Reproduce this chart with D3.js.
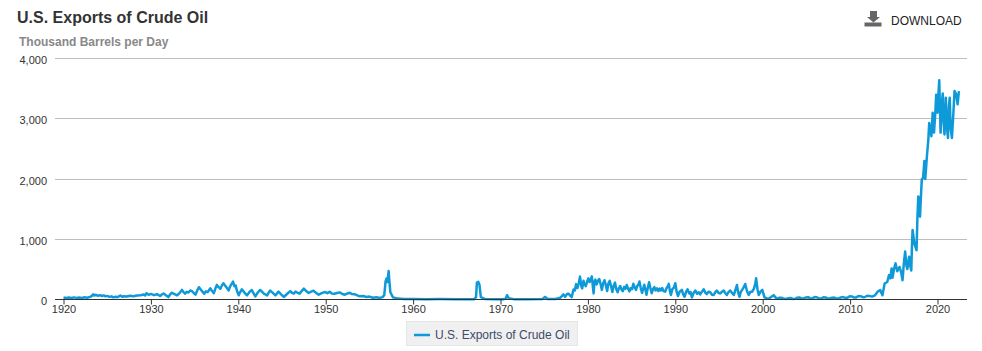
<!DOCTYPE html>
<html><head><meta charset="utf-8">
<script src="https://cdn.jsdelivr.net/npm/d3@7/dist/d3.min.js"></script>
<style>
html,body{margin:0;padding:0;background:#fff}
svg{display:block;font-family:"Liberation Sans",Arial,sans-serif}
</style></head><body><div id="chart"></div>
<script>
const chartTitle = "U.S. Exports of Crude Oil";
const chartUnit = "Thousand Barrels per Day";
const seriesName = "U.S. Exports of Crude Oil";
const yTicks = [0, 1000, 2000, 3000, 4000];
const xTicks = [1920,1930,1940,1950,1960,1970,1980,1990,2000,2010,2020];

// [year, thousand barrels per day]
const exports1920s = [[1920,33],[1920.3,26],[1920.6,32],[1920.9,24],[1921.2,35],[1921.5,27],[1921.8,32],[1922.1,26],[1922.4,36],[1922.7,30],[1923.05,44],[1923.25,60],[1923.4,88],[1923.55,65],[1923.7,78],[1923.95,62],[1924.2,72],[1924.4,58],[1924.6,68],[1924.8,52],[1925,60],[1925.25,44],[1925.5,52],[1925.7,36],[1925.9,44],[1926.2,40],[1926.5,66],[1926.7,46],[1926.9,54],[1927.25,50],[1927.6,62],[1928,54],[1928.4,66],[1928.8,70],[1929.2,84],[1929.35,68],[1929.5,104],[1929.75,78]];
const exports1930s = [[1930,92],[1930.35,72],[1930.7,88],[1931.05,58],[1931.25,82],[1931.45,100],[1931.75,68],[1932,40],[1932.2,84],[1932.4,112],[1932.7,88],[1933,68],[1933.3,110],[1933.55,160],[1933.75,120],[1933.9,96],[1934.1,128],[1934.3,116],[1934.5,150],[1934.7,140],[1934.9,108],[1935.1,80],[1935.3,150],[1935.5,204],[1935.7,165],[1935.9,130],[1936.1,96],[1936.3,135],[1936.5,122],[1936.8,186],[1937,140],[1937.2,105],[1937.4,190],[1937.55,242],[1937.75,205],[1937.95,178],[1938.15,240],[1938.3,268],[1938.5,230],[1938.7,190],[1938.9,150],[1939.05,215],[1939.2,250],[1939.4,296],[1939.55,220],[1939.7,230],[1939.85,140]];
const exports1940s = [[1940.05,70],[1940.2,120],[1940.4,170],[1940.7,115],[1941,68],[1941.3,130],[1941.55,158],[1941.75,100],[1941.95,52],[1942.25,120],[1942.5,158],[1942.9,100],[1943.3,68],[1943.5,120],[1943.65,148],[1943.95,110],[1944.25,68],[1944.45,105],[1944.6,130],[1944.9,85],[1945.2,42],[1945.6,95],[1945.95,140],[1946.15,110],[1946.35,98],[1946.55,132],[1946.7,120],[1947,98],[1947.25,140],[1947.5,180],[1947.8,135],[1948.05,108],[1948.35,130],[1948.6,146],[1948.9,110],[1949.2,80],[1949.6,110],[1949.95,124]];
const exports1950s = [[1950.2,105],[1950.45,128],[1950.7,100],[1951,96],[1951.3,108],[1951.6,118],[1951.9,92],[1952.2,80],[1952.5,100],[1952.75,112],[1953,90],[1953.3,88],[1953.6,70],[1953.9,52],[1954.3,58],[1954.65,42],[1955,48],[1955.4,30],[1955.8,36],[1956.2,26],[1956.5,40],[1956.7,72],[1956.85,300],[1956.95,348],[1957.05,290],[1957.2,472],[1957.3,280],[1957.4,120],[1957.7,35],[1958.3,15],[1959,10]];
const exports1960s = [[1960,8],[1961.5,6],[1963,7],[1965,5],[1967,6],[1967.2,40],[1967.3,280],[1967.45,293],[1967.6,240],[1967.75,40],[1968.2,10],[1969.5,6]];
const exports1970s = [[1970.3,5],[1970.6,15],[1970.75,72],[1970.95,20],[1971.5,6],[1973,5],[1974.8,8],[1975.1,44],[1975.4,8],[1976.3,8],[1976.85,30],[1977.05,60],[1977.2,85],[1977.4,45],[1977.6,90],[1977.8,95],[1978,60],[1978.15,40],[1978.35,165],[1978.5,150],[1978.65,255],[1978.8,190],[1978.95,270],[1979.1,380],[1979.25,215],[1979.35,185],[1979.5,310],[1979.6,260],[1979.75,220],[1979.9,290]];
const exports1980s = [[1980.05,350],[1980.2,290],[1980.35,345],[1980.45,385],[1980.55,240],[1980.65,100],[1980.75,290],[1980.85,330],[1981,250],[1981.15,310],[1981.3,340],[1981.45,260],[1981.6,160],[1981.75,270],[1981.9,320],[1982.05,240],[1982.2,140],[1982.35,270],[1982.5,310],[1982.65,220],[1982.8,125],[1982.95,230],[1983.1,280],[1983.25,170],[1983.4,120],[1983.55,190],[1983.7,225],[1983.85,165],[1984,140],[1984.15,210],[1984.3,180],[1984.45,240],[1984.6,175],[1984.75,135],[1984.9,190],[1985.05,170],[1985.2,260],[1985.35,205],[1985.5,160],[1985.65,225],[1985.8,250],[1985.9,300],[1986.05,190],[1986.2,110],[1986.35,195],[1986.45,245],[1986.6,150],[1986.7,80],[1986.85,190],[1987,285],[1987.15,190],[1987.3,105],[1987.45,170],[1987.6,205],[1987.75,150],[1987.9,185],[1988.05,140],[1988.2,180],[1988.35,150],[1988.5,190],[1988.65,140],[1988.85,130],[1989,190],[1989.15,220],[1989.25,260],[1989.4,130],[1989.5,75],[1989.65,170],[1989.85,200]];
const exports1990s = [[1990,270],[1990.15,130],[1990.3,58],[1990.5,130],[1990.75,160],[1990.9,90],[1991.05,46],[1991.25,130],[1991.4,170],[1991.6,100],[1991.75,125],[1991.9,35],[1992.1,110],[1992.3,148],[1992.5,95],[1992.7,120],[1992.85,85],[1993.05,130],[1993.25,170],[1993.45,110],[1993.6,90],[1993.8,130],[1994,120],[1994.2,80],[1994.4,75],[1994.6,125],[1994.75,148],[1994.95,110],[1995.15,100],[1995.35,130],[1995.55,148],[1995.75,100],[1995.9,75],[1996.1,125],[1996.3,148],[1996.5,105],[1996.7,75],[1996.9,170],[1997.05,240],[1997.2,110],[1997.35,46],[1997.5,130],[1997.65,160],[1997.85,210],[1998,258],[1998.2,140],[1998.4,75],[1998.6,130],[1998.8,130],[1999,180],[1999.15,260],[1999.25,352],[1999.4,170],[1999.55,75],[1999.75,130],[1999.95,160]];
const exports2000s = [[2000.1,90],[2000.2,35],[2000.45,22],[2000.7,17],[2000.95,40],[2001.25,72],[2001.45,35],[2001.65,17],[2001.95,30],[2002.2,28],[2002.45,12],[2002.7,10],[2002.95,22],[2003.2,25],[2003.45,10],[2003.7,12],[2003.95,30],[2004.2,35],[2004.45,15],[2004.7,18],[2004.95,35],[2005.2,38],[2005.45,18],[2005.7,22],[2005.95,40],[2006.2,38],[2006.45,16],[2006.7,18],[2006.95,36],[2007.2,35],[2007.45,15],[2007.7,20],[2007.95,30],[2008.2,32],[2008.45,16],[2008.7,18],[2008.95,35],[2009.2,40],[2009.45,28],[2009.7,30],[2009.95,55]];
const exports2010s = [[2010.2,50],[2010.45,32],[2010.7,35],[2010.95,58],[2011.2,55],[2011.45,38],[2011.7,42],[2011.95,62],[2012.2,60],[2012.5,48],[2012.85,70],[2013.15,130],[2013.45,155],[2013.7,70],[2013.95,265],[2014.25,290],[2014.45,405],[2014.6,350],[2014.75,515],[2014.85,360],[2015.05,520],[2015.2,600],[2015.4,470],[2015.65,540],[2015.85,445],[2016,320],[2016.15,600],[2016.3,795],[2016.45,560],[2016.55,505],[2016.75,710],[2016.88,560],[2017,480],[2017.08,900],[2017.15,1155],[2017.35,930],[2017.6,820],[2017.7,1350],[2017.8,1710],[2018,1375],[2018.1,1700],[2018.2,1990],[2018.35,2020],[2018.5,2300],[2018.6,2000],[2018.8,2400],[2018.95,2650],[2019.05,2930],[2019.3,2710],[2019.45,3100],[2019.6,2770],[2019.75,3100],[2019.85,3400]];
const exports2020s = [[2020,3100],[2020.1,3400],[2020.2,3640],[2020.35,2770],[2020.5,3250],[2020.6,3420],[2020.7,2950],[2020.8,2740],[2020.95,3350],[2021.05,2900],[2021.2,2680],[2021.3,3200],[2021.4,3350],[2021.5,2850],[2021.65,2680],[2021.8,3050],[2021.95,3460],[2022.15,3400],[2022.3,3240],[2022.45,3460]];

const seriesData = [...exports1920s,...exports1930s,...exports1940s,...exports1950s,...exports1960s,...exports1970s,...exports1980s,...exports1990s,...exports2000s,...exports2010s,...exports2020s];

const WIDTH = 982, HEIGHT = 351;
const x = d3.scaleLinear().domain([1920, 2020]).range([63.5, 937.5]);
const y = d3.scaleLinear().domain([0, 4000]).range([299.5, 58.5]);
const plotLeft = 55, plotRight = 967;

const svg = d3.select("#chart").append("svg").attr("width", WIDTH).attr("height", HEIGHT);

svg.append("text").attr("x", 17).attr("y", 23).attr("font-size", 16).attr("font-weight", "bold").attr("fill", "#333").text(chartTitle);
svg.append("text").attr("x", 19).attr("y", 46).attr("font-size", 12).attr("font-weight", "bold").attr("fill", "#888").text(chartUnit);

// y labels
const yAxis = svg.append("g").attr("transform", `translate(${plotLeft},1.5)`)
  .call(d3.axisLeft(y).tickValues(yTicks).tickSize(0).tickPadding(8).tickFormat(d3.format(",")));
yAxis.select(".domain").remove();
yAxis.selectAll("text").attr("font-size", 11).attr("font-family", "inherit").attr("fill", "#333");

// gridlines
svg.append("g").selectAll("line").data(yTicks.filter(d => d > 0)).join("line")
  .attr("x1", plotLeft).attr("x2", plotRight)
  .attr("y1", d => Math.floor(y(d)) + 0.5).attr("y2", d => Math.floor(y(d)) + 0.5)
  .attr("stroke", "#bdbdbd").attr("stroke-width", 1);

// series
const line = d3.line().x(d => x(d[0])).y(d => y(d[1]));
svg.append("path").attr("d", line(seriesData)).attr("fill", "none")
  .attr("stroke", "#0e9ad9").attr("stroke-width", 2.5).attr("stroke-linejoin", "round");

// x axis
const xAxis = svg.append("g").attr("transform", "translate(0,299.5)")
  .call(d3.axisBottom(x).tickValues(xTicks).tickSize(5).tickPadding(1).tickFormat(d3.format("d")));
xAxis.select(".domain").attr("d", `M${plotLeft},0H${plotRight}`).attr("stroke", "#333");
xAxis.selectAll("line").attr("stroke", "#333");
xAxis.selectAll("text").attr("font-size", 11).attr("font-family", "inherit").attr("fill", "#333");

// legend
const lg = svg.append("g");
lg.append("rect").attr("x", 406.5).attr("y", 321.5).attr("width", 171).attr("height", 24)
  .attr("fill", "#f0f0f0").attr("stroke", "#e6e6e6");
lg.append("line").attr("x1", 414).attr("x2", 430).attr("y1", 335).attr("y2", 335)
  .attr("stroke", "#0e9ad9").attr("stroke-width", 2.5);
lg.append("text").attr("x", 435).attr("y", 339).attr("font-size", 12).attr("fill", "#3c4a6b").text(seriesName);

// download button
const dl = svg.append("g").attr("fill", "#666");
dl.append("path").attr("d", "M870,11H877V17H880L873.5,22.5L867,17H870Z");
dl.append("rect").attr("x", 864.5).attr("y", 22.5).attr("width", 17).attr("height", 4);
svg.append("text").attr("x", 891).attr("y", 25).attr("font-size", 12).attr("fill", "#222").text("DOWNLOAD");
</script></body></html>
